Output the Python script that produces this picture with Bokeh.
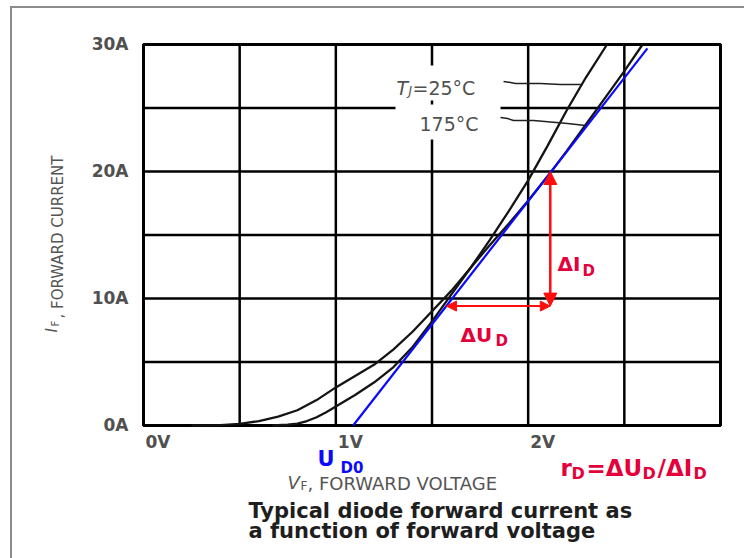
import math
from bokeh.plotting import figure
from bokeh.models import (Range1d, Label, LabelSet, ColumnDataSource, Arrow, NormalHead)
from bokeh.core.properties import value
from bokeh.embed import file_html
from bokeh.resources import INLINE

# ---------------- data ----------------
# forward characteristic, Tj = 175 degC  (V, A)
v_175 = [0.25, 0.4, 0.5, 0.6, 0.7, 0.8, 0.9, 1.0, 1.1, 1.2, 1.3, 1.4, 1.5,
         1.6, 1.7, 1.8, 1.9, 2.0, 2.1, 2.2, 2.3, 2.4, 2.5, 2.595]
i_175 = [0.0, 0.03, 0.12, 0.35, 0.7, 1.2, 2.0, 3.0, 3.9, 4.8, 6.0, 7.4, 9.0,
         10.6, 12.4, 14.2, 15.9, 17.7, 19.6, 21.6, 23.7, 25.8, 27.9, 30.0]
# forward characteristic, Tj = 25 degC  (V, A)
v_25 = [0.67, 0.75, 0.8, 0.85, 0.9, 0.95, 1.0, 1.1, 1.2, 1.3, 1.4, 1.5, 1.6,
        1.7, 1.8, 1.9, 2.0, 2.1, 2.2, 2.3, 2.41]
i_25 = [0.0, 0.06, 0.15, 0.35, 0.65, 1.05, 1.5, 2.4, 3.4, 4.6, 6.2, 8.2, 10.3,
        12.4, 14.6, 16.9, 19.3, 22.0, 24.8, 27.4, 30.0]
# linearised model  U = U_D0 + r_D * I  (blue line)
tangent_v = [1.09, 2.62]
tangent_i = [0.0, 29.7]
# delta construction (red arrows)
delta_u = [1.575, 2.115]     # V span of the horizontal arrow
delta_i = [9.4, 20.0]        # A span of the vertical arrow
# leader lines from the temperature labels to the curves
lead_25_v = [1.872, 1.908, 1.934, 2.064, 2.168, 2.283]
lead_25_i = [27.09, 27.01, 26.93, 26.93, 26.85, 26.85]
lead_175_v = [1.856, 1.893, 1.924, 2.028, 2.205, 2.298]
lead_175_i = [24.25, 24.17, 24.02, 24.02, 23.78, 23.62]

x_ticks = [0, 1, 2]
x_tick_labels = ["0V", "1V", "2V"]
y_ticks = [0, 10, 20, 30]
y_tick_labels = ["0A", "10A", "20A", "30A"]
x_grid = [0, 0.5, 1.0, 1.5, 2.0, 2.5, 3.0]
y_grid = [0, 5, 10, 15, 20, 25, 30]

# ---------------- layout ----------------
W, H = 744, 558
FL, FR, FT, FB = 143, 720, 44, 425     # pixel box of the chart grid
XMAX, YMAX = 3.0, 30.0


def dx(px):
    return (px - FL) / (FR - FL) * XMAX


def dy(py):
    return (FB - py) / (FB - FT) * YMAX


FONT = "DejaVu Sans"
GRAY = "#505050"
RED_T = "#e4003b"
RED_A = "#ff0d0d"
BLUE = "#0a0aff"

p = figure(width=W, height=H,
           x_range=Range1d(dx(0), dx(W)), y_range=Range1d(dy(H), dy(0)),
           output_backend="svg", toolbar_location=None, title=None,
           x_axis_location=None, y_axis_location=None,
           min_border=0, min_border_left=0, min_border_right=0,
           min_border_top=0, min_border_bottom=0)
p.xgrid.visible = False
p.ygrid.visible = False
p.outline_line_color = None
p.background_fill_color = None
p.border_fill_color = None
p.styles = {
    "background": ("linear-gradient(#8c8c8c,#8c8c8c) 10px 6px / 2px 552px no-repeat,"
                   "linear-gradient(#8c8c8c,#8c8c8c) 10px 6px / 734px 2px no-repeat, white")
}

# grid
p.segment(x0=x_grid, y0=[0] * len(x_grid), x1=x_grid, y1=[YMAX] * len(x_grid),
          line_color="black", line_width=2.5)
p.segment(x0=[0] * len(y_grid), y0=y_grid, x1=[XMAX] * len(y_grid), y1=y_grid,
          line_color="black", line_width=2.5)
p.quad(left=[0], right=[XMAX], bottom=[0], top=[YMAX], fill_color=None,
       line_color="black", line_width=3)

# white mask behind the temperature labels
p.quad(left=[dx(395)], right=[dx(500)], bottom=[dy(139)], top=[dy(65)],
       fill_color="white", line_color=None)
p.segment(x0=[1.5], y0=[dy(104)], x1=[1.5], y1=[dy(100)],
          line_color="black", line_width=2.5)

# curves
p.line(v_175, i_175, line_color="#141414", line_width=2.3)
p.line(v_25, i_25, line_color="#141414", line_width=2.3)
p.line(lead_25_v, lead_25_i, line_color="#202020", line_width=1.5)
p.line(lead_175_v, lead_175_i, line_color="#202020", line_width=1.5)
p.line(tangent_v, tangent_i, line_color=BLUE, line_width=2.2)

# delta arrows
p.add_layout(Arrow(x_start=delta_u[1], y_start=delta_i[0], x_end=delta_u[1], y_end=delta_i[1],
                   line_color=RED_A, line_width=2.5,
                   start=NormalHead(size=13, fill_color=RED_A, line_color=RED_A),
                   end=NormalHead(size=13, fill_color=RED_A, line_color=RED_A)))
p.add_layout(Arrow(x_start=delta_u[0], y_start=delta_i[0], x_end=delta_u[1], y_end=delta_i[0],
                   line_color=RED_A, line_width=2,
                   start=NormalHead(size=10, fill_color=RED_A, line_color=RED_A),
                   end=NormalHead(size=10, fill_color=RED_A, line_color=RED_A)))

# tick labels
xsrc = ColumnDataSource(dict(x=x_ticks, y=[0] * len(x_ticks), t=x_tick_labels))
p.add_layout(LabelSet(x="x", y="y", text="t", source=xsrc, x_offset=2, y_offset=-22,
                      text_font=value(FONT), text_font_size=value("17px"),
                      text_font_style="bold", text_color=GRAY,
                      text_align="left", text_baseline="alphabetic"))
ysrc = ColumnDataSource(dict(x=[0] * len(y_ticks), y=y_ticks, t=y_tick_labels))
p.add_layout(LabelSet(x="x", y="y", text="t", source=ysrc, x_offset=-15, y_offset=1,
                      text_font=value(FONT), text_font_size=value("17px"),
                      text_font_style="bold", text_color=GRAY,
                      text_align="right", text_baseline="middle"))


def lab(text, px, py, size, color, style="normal", angle=0.0):
    p.add_layout(Label(x=dx(px), y=dy(py), text=text, text_font=FONT,
                       text_font_size=f"{size}px", text_color=color,
                       text_font_style=style, text_align="left",
                       text_baseline="alphabetic", angle=angle))


# y axis title (rotated)
lab("I", 51, 332, 15, "#555555", "italic", math.pi / 2)
lab("F", 55, 326, 10, "#555555", "normal", math.pi / 2)
lab(", FORWARD CURRENT", 57, 318, 15, "#555555", "normal", math.pi / 2)

# x axis title
lab("V", 287, 482, 18, "#555555", "italic")
lab("F", 300, 485, 12, "#555555")
lab(", FORWARD VOLTAGE", 307, 483, 18, "#555555")

# caption
lab("Typical diode forward current as", 248, 510, 21, "#1e1e1e", "bold")
lab("a function of forward voltage", 248, 530, 21, "#1e1e1e", "bold")

# temperature labels
lab("T", 396, 87, 19, GRAY, "italic")
lab("J", 408, 90, 12, GRAY, "italic")
lab("=25°C", 412, 87, 19, GRAY)
lab("175°C", 419, 123, 19, GRAY)

# U_D0
lab("U", 317, 458, 21, BLUE, "bold")
lab("D0", 340, 467, 15, BLUE, "bold")

# delta labels
lab("ΔI", 557, 263, 20, RED_T, "bold")
lab("D", 582, 270, 15, RED_T, "bold")
lab("ΔU", 460, 334, 20, RED_T, "bold")
lab("D", 495, 340, 15, RED_T, "bold")

# r_D = ΔU_D / ΔI_D
lab("r", 560, 467, 23, RED_T, "bold")
lab("D", 571, 473, 16, RED_T, "bold")
lab("=ΔU", 586, 467, 23, RED_T, "bold")
lab("D", 642, 473, 16, RED_T, "bold")
lab("/ΔI", 657, 467, 23, RED_T, "bold")
lab("D", 693, 473, 16, RED_T, "bold")

open("out.html", "w").write(file_html(p, INLINE))
